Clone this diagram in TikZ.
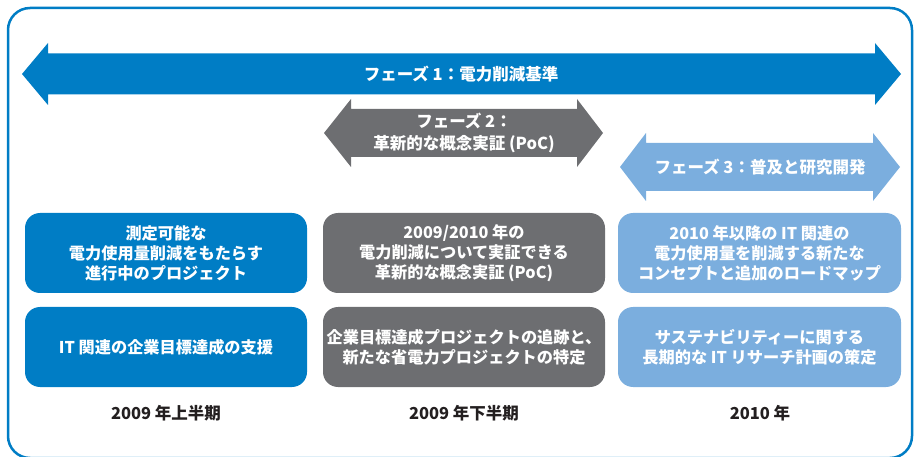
\documentclass[tikz,border=0pt]{standalone}
\usepackage{fontspec}
\setmainfont{Noto Sans CJK JP}
\definecolor{cblue}{HTML}{007DC5}
\definecolor{cgray}{HTML}{6D6E71}
\definecolor{clight}{HTML}{7BAEDE}
\definecolor{ctext}{HTML}{231F20}
\tikzset{
  box/.style={fill=#1, rounded corners=15pt, minimum width=282pt, minimum height=80pt,
    inner sep=0pt, text=white, align=center, font=\fontsize{16.2}{20}\selectfont\bfseries},
  arrowtext/.style={text=white, align=center, inner sep=0pt, font=\fontsize{16.5}{22}\selectfont\bfseries},
  period/.style={text=ctext, inner sep=0pt, font=\fontsize{16.5}{20}\selectfont\bfseries}
}
\begin{document}
\begin{tikzpicture}[x=1pt,y=-1pt]
\useasboundingbox (0,0) rectangle (919,457);
% frame
\draw[cblue, line width=2.5pt, rounded corners=22pt] (8,8) rectangle (912,458);
% arrow 1
\fill[cblue] (22,74) -- (48,43) -- (48,53.5) -- (875,53.5) -- (875,43) -- (901,74)
  -- (875,105) -- (875,94.5) -- (48,94.5) -- (48,105) -- cycle;
\node[arrowtext] (p1) at (461,74) {フェーズ 1：電力削減基準};
% arrow 2
\fill[cgray] (324,133) -- (351,99) -- (351,109) -- (577,109) -- (577,99) -- (603,133)
  -- (577,167) -- (577,157) -- (351,157) -- (351,167) -- cycle;
\node[arrowtext] (p2) at (464,133) {フェーズ 2：\\革新的な概念実証 (PoC)};
% arrow 3
\fill[clight] (620,167) -- (646,133) -- (646,143) -- (873,143) -- (873,133) -- (900,167)
  -- (873,201) -- (873,191) -- (646,191) -- (646,201) -- cycle;
\node[arrowtext] (p3) at (760,167) {フェーズ 3：普及と研究開発};
% boxes
\node[box=cblue] (a1) at (166,253) {測定可能な\\電力使用量削減をもたらす\\進行中のプロジェクト};
\node[box=cblue] (a2) at (166,347) {IT 関連の企業目標達成の支援};
\node[box=cgray] (b1) at (464,253) {2009/2010 年の\\電力削減について実証できる\\革新的な概念実証 (PoC)};
\node[box=cgray] (b2) at (464,347) {企業目標達成プロジェクトの追跡と、\\新たな省電力プロジェクトの特定};
\node[box=clight, minimum width=283pt] (c1) at (759.5,253) {2010 年以降の IT 関連の\\電力使用量を削減する新たな\\コンセプトと追加のロードマップ};
\node[box=clight, minimum width=283pt] (c2) at (759.5,347) {サステナビリティーに関する\\長期的な IT リサーチ計画の策定};
% period labels
\node[period] (l1) at (166,413) {2009 年上半期};
\node[period] (l2) at (464,413) {2009 年下半期};
\node[period] (l3) at (760,413) {2010 年};
\end{tikzpicture}
\end{document}
